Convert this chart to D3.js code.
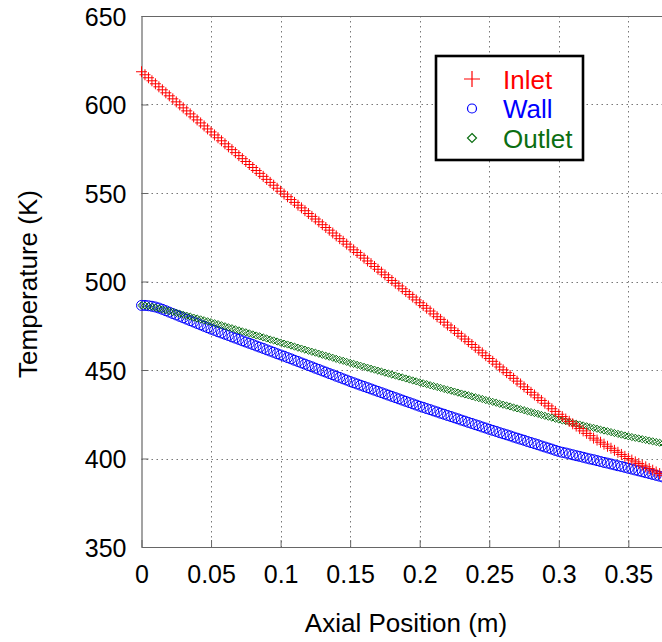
<!DOCTYPE html>
<html><head><meta charset="utf-8">
<script src="https://cdn.jsdelivr.net/npm/d3@7"></script>
<style>body{margin:0;background:#fff}svg{display:block}text{font-family:"Liberation Sans",Arial,sans-serif}</style>
</head><body><svg id="c" width="662" height="642"></svg>
<script>
const xStep = 0.0025;
const inlet = [618.5,616.8,615.1,613.4,611.7,610.0,608.3,606.6,604.9,603.2,601.5,599.8,598.1,596.4,594.7,593.0,591.3,589.6,587.9,586.2,584.5,
582.8,581.2,579.5,577.8,576.1,574.5,572.8,571.1,569.4,567.8,566.1,564.4,562.7,561.1,559.4,557.7,556.0,554.4,552.7,551.0,
549.4,547.9,546.3,544.7,543.1,541.6,540.0,538.4,536.8,535.3,533.7,532.1,530.5,529.0,527.4,525.8,524.2,522.7,521.1,519.5,
517.9,516.4,514.8,513.2,511.6,510.1,508.5,506.9,505.3,503.8,502.2,500.6,499.0,497.5,495.9,494.3,492.7,491.2,489.6,488.0,
486.4,484.9,483.3,481.7,480.1,478.6,477.0,475.4,473.8,472.3,470.7,469.1,467.5,466.0,464.4,462.8,461.2,459.7,458.1,456.5,
454.9,453.3,451.7,450.1,448.5,446.9,445.3,443.7,442.1,440.5,
439.0,437.4,435.9,434.3,432.8,431.2,429.7,428.1,426.6,425.0,
423.7,422.3,421.0,419.6,418.3,416.9,415.6,414.2,412.9,411.5,
410.4,409.2,408.1,406.9,405.8,404.6,403.5,402.3,401.2,400.0,
399.1,398.1,397.2,396.2,395.3,394.3,393.4,392.4,391.5,390.5];
const wall = [486.5,486.5,486.3,486.0,485.6,485.0,484.3,483.5,482.7,481.9,481.1,480.3,479.5,478.7,477.9,477.1,476.3,475.5,474.7,473.9,473.1,
472.4,471.6,470.9,470.2,469.5,468.7,468.0,467.3,466.5,465.8,465.1,464.4,463.6,462.9,462.2,461.4,460.7,460.0,459.2,458.5,
457.8,457.0,456.3,455.5,454.8,454.0,453.3,452.5,451.8,451.0,450.3,449.5,448.8,448.0,447.3,446.5,445.8,445.0,444.3,443.5,
442.8,442.1,441.4,440.7,440.0,439.3,438.6,437.9,437.2,436.5,435.8,435.1,434.4,433.7,433.0,432.3,431.6,430.9,430.2,429.5,
428.9,428.2,427.6,426.9,426.3,425.6,425.0,424.3,423.7,423.0,422.4,421.7,421.1,420.4,419.8,419.1,418.5,417.8,417.2,416.5,
415.9,415.3,414.6,414.0,413.4,412.8,412.1,411.5,410.9,410.3,409.6,409.0,408.4,407.8,407.1,406.5,405.9,405.3,404.6,404.0,
403.5,403.1,402.6,402.1,401.6,401.2,400.7,400.2,399.7,399.3,398.8,398.3,397.8,397.4,396.9,396.4,395.9,395.5,395.0,394.5,
394.0,393.5,393.0,392.5,392.0,391.5,391.0,390.5,390.0,389.5];
const outlet = [486.5,486.4,486.1,485.7,485.3,484.8,484.3,483.8,483.3,482.8,482.3,
481.8,481.2,480.7,480.2,479.6,479.1,478.6,478.1,477.5,477.0,
476.4,475.9,475.3,474.7,474.1,473.6,473.0,472.4,471.8,471.3,470.7,470.1,469.5,469.0,468.4,467.8,467.2,466.7,466.1,465.5,
464.9,464.4,463.8,463.2,462.6,462.1,461.5,460.9,460.3,459.8,459.2,458.6,458.0,457.5,456.9,456.3,455.7,455.2,454.6,454.0,
453.5,452.9,452.4,451.8,451.3,450.7,450.2,449.6,449.1,448.5,448.0,447.4,446.9,446.3,445.8,445.2,444.7,444.1,443.6,443.0,
442.5,442.0,441.4,440.9,440.4,439.9,439.3,438.8,438.3,437.8,437.2,436.7,436.2,435.7,435.1,434.6,434.1,433.6,433.0,432.5,
432.0,431.5,430.9,430.4,429.9,429.4,428.8,428.3,427.8,427.3,426.7,426.2,425.7,425.2,424.6,424.1,423.6,423.1,422.5,422.0,
421.5,421.1,420.6,420.1,419.6,419.2,418.7,418.2,417.7,417.3,416.8,416.3,415.8,415.4,414.9,414.4,413.9,413.5,413.0,412.5,
412.1,411.7,411.3,410.9,410.5,410.1,409.7,409.3,408.9,408.5];
const xTicks = [0,0.05,0.1,0.15,0.2,0.25,0.3,0.35];
const xTickLabels = ["0","0.05","0.1","0.15","0.2","0.25","0.3","0.35"];
const yTicks = [350,400,450,500,550,600,650];
const seriesNames = ["Inlet","Wall","Outlet"];
const seriesColors = ["#ff0000","#0000ff","#0b6e12"];

const svg = d3.select("#c");
const L = 141.5, T = 16, B = 547;
const x = d3.scaleLinear().domain([0, 0.375]).range([L, L + 0.375*1391]);
const y = d3.scaleLinear().domain([350, 650]).range([B, T]);

const grid = svg.append("g").attr("stroke","#777").attr("stroke-width",1).attr("stroke-dasharray","1.5,3.5");
grid.selectAll(".gx").data(xTicks.filter(d=>d>0)).join("line")
  .attr("x1",d=>Math.round(x(d))+0.5).attr("x2",d=>Math.round(x(d))+0.5).attr("y1",T).attr("y2",B);
grid.selectAll(".gy").data(yTicks.filter(d=>d>350&&d<650)).join("line")
  .attr("y1",d=>Math.round(y(d))+0.5).attr("y2",d=>Math.round(y(d))+0.5).attr("x1",L).attr("x2",662);

// axes
const xAxis = d3.axisBottom(x).tickValues(xTicks).tickFormat((d,i)=>xTickLabels[i]).tickSizeInner(-7).tickSizeOuter(0).tickPadding(18);
const gx = svg.append("g").attr("transform",`translate(0,${B})`).call(xAxis);
const yAxis = d3.axisLeft(y).tickValues(yTicks).tickSizeInner(-7).tickSizeOuter(0).tickPadding(15);
const gy = svg.append("g").attr("transform",`translate(${L},0)`).call(yAxis);
[gx,gy].forEach(g=>{
  g.select(".domain").attr("stroke","#666").attr("stroke-width",1.2);
  g.selectAll(".tick line").attr("stroke","#666");
  g.selectAll(".tick text").attr("font-family","Liberation Sans, Arial, sans-serif").attr("font-size",25).attr("fill","#000");
});
gy.selectAll(".tick text").attr("dy","0.36em");
// top border
svg.append("line").attr("x1",L).attr("x2",662).attr("y1",T+0.5).attr("y2",T+0.5).attr("stroke","#666").attr("stroke-width",1.2);

// series
const pts = arr => arr.map((v,i)=>[i*xStep, v]);
const gW = svg.append("g");
gW.selectAll("circle").data(pts(wall)).join("circle")
  .attr("cx",d=>x(d[0])).attr("cy",d=>y(d[1])).attr("r",5)
  .attr("fill","none").attr("stroke",seriesColors[1]).attr("stroke-width",1);
const diamond = (cx,cy,s)=>`M${cx},${cy-s}L${cx+s},${cy}L${cx},${cy+s}L${cx-s},${cy}Z`;
const gO = svg.append("g");
gO.selectAll("path").data(pts(outlet)).join("path")
  .attr("d",d=>diamond(x(d[0]),y(d[1]),3.6))
  .attr("fill","none").attr("stroke",seriesColors[2]).attr("stroke-width",1);
const plus = (cx,cy,s)=>`M${cx-s},${cy}H${cx+s}M${cx},${cy-s}V${cy+s}`;
const gI = svg.append("g");
gI.selectAll("path").data(pts(inlet)).join("path")
  .attr("d",d=>plus(x(d[0]),y(d[1]),5.5))
  .attr("fill","none").attr("stroke",seriesColors[0]).attr("stroke-width",1);

// legend
const lg = svg.append("g");
lg.append("rect").attr("x",436).attr("y",56).attr("width",147).attr("height",104)
  .attr("fill","#fff").attr("stroke","#000").attr("stroke-width",2.6);
const rowsY = [79,108.5,138];
lg.append("path").attr("d",plus(472,rowsY[0],8)).attr("stroke",seriesColors[0]).attr("stroke-width",1.2).attr("fill","none");
lg.append("circle").attr("cx",472).attr("cy",rowsY[1]).attr("r",4.5).attr("stroke",seriesColors[1]).attr("stroke-width",1.2).attr("fill","none");
lg.append("path").attr("d",diamond(472,rowsY[2],4.5)).attr("stroke",seriesColors[2]).attr("stroke-width",1.2).attr("fill","none");
lg.selectAll("text").data(seriesNames).join("text")
  .attr("x",503).attr("y",(d,i)=>rowsY[i]+9.5).attr("font-size",26)
  .attr("fill",(d,i)=>seriesColors[i]).text(d=>d);

// axis titles
svg.append("text").attr("x",406).attr("y",632).attr("text-anchor","middle").attr("font-size",26).text("Axial Position (m)");
svg.append("text").attr("transform","translate(37,284) rotate(-90)").attr("text-anchor","middle").attr("font-size",26).text("Temperature (K)");
</script></body></html>
